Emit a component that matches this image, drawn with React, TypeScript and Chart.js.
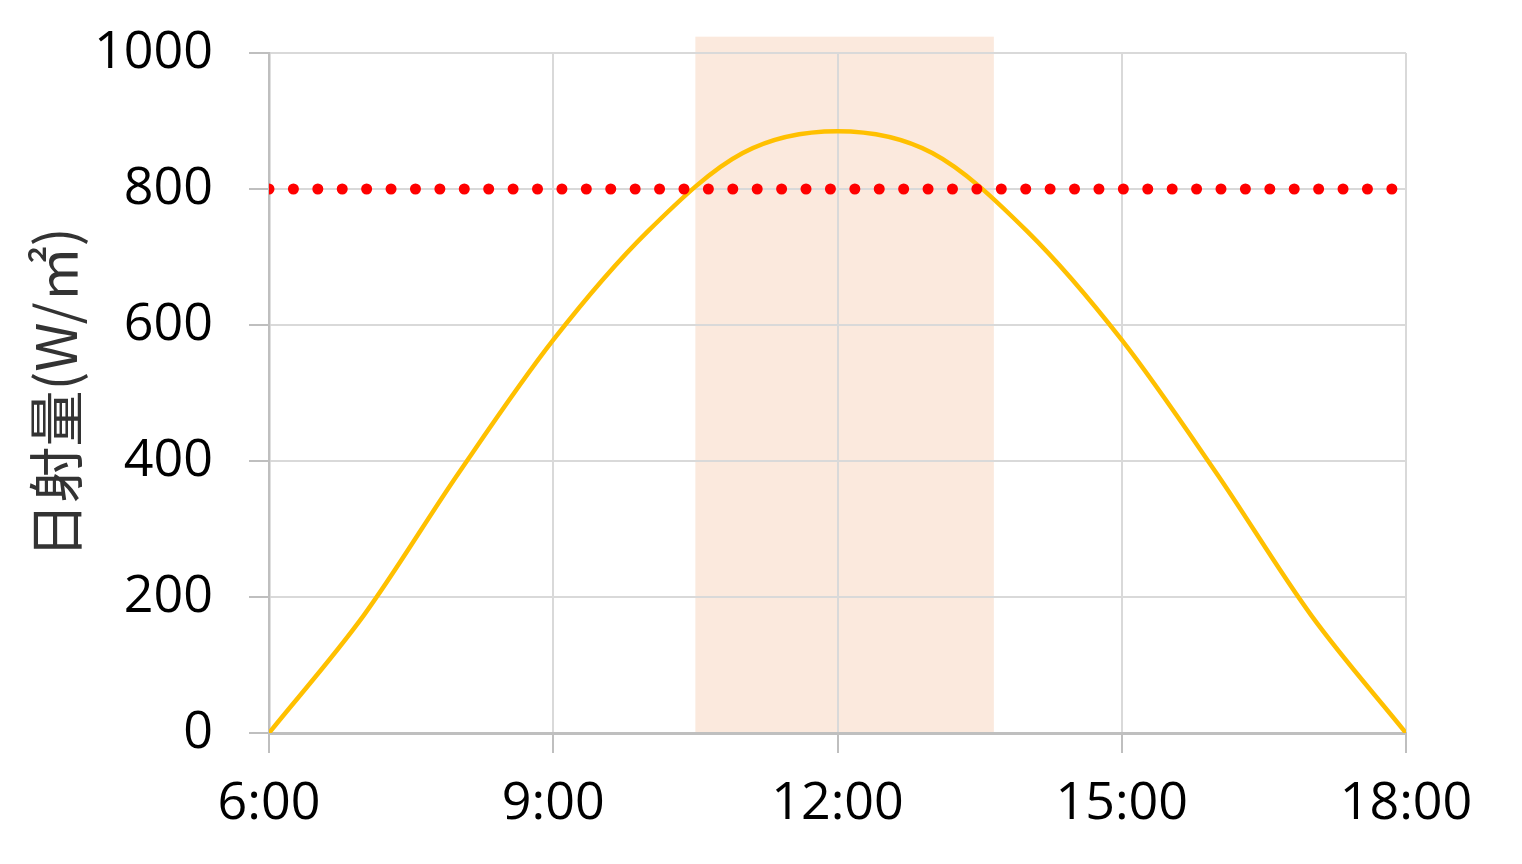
import React, { useEffect, useRef } from "react";
import { Chart, registerables } from "chart.js";

Chart.register(...registerables);

// Hours of day
const hours = [6, 7, 8, 9, 10, 11, 12, 13, 14, 15, 16, 17, 18];
// Solar irradiance (W/m2)
const irradiance = [0, 173, 382, 578, 738, 853, 885, 853, 738, 578, 382, 173, 0];
// Threshold line
const thresholdHours = [6, 18];
const thresholdValues = [800, 800];
// Highlighted period
const bandStart = 10.5;
const bandEnd = 13.65;
const bandTopValue = 1024;
// Axis ticks
const xTicks = [6, 9, 12, 15, 18];
const yTickStep = 200;
const yMax = 1000;
const yTitle = "日射量(W/㎡)";

const bandPlugin = {
  id: "band",
  beforeDraw(chart: any) {
    const { ctx, scales, chartArea } = chart;
    const x1 = scales.x.getPixelForValue(bandStart);
    const x2 = scales.x.getPixelForValue(bandEnd);
    const yTop = scales.y.getPixelForValue(bandTopValue);
    const yBot = chartArea.bottom;
    ctx.save();
    ctx.fillStyle = "#FBE9DD";
    ctx.fillRect(x1, yTop, x2 - x1, yBot - yTop);
    ctx.restore();
  },
};

export default function App() {
  const ref = useRef<HTMLCanvasElement>(null);
  useEffect(() => {
    document.body.style.margin = "0";
    const chart = new Chart(ref.current!, {
      type: "line",
      data: {
        datasets: [
          {
            data: thresholdHours.map((h, i) => ({ x: h, y: thresholdValues[i] })),
            borderColor: "#FF0000",
            borderWidth: 11,
            borderDash: [0, 24.41],
            borderCapStyle: "round",
            pointRadius: 0,
            fill: false,
          },
          {
            data: hours.map((h, i) => ({ x: h, y: irradiance[i] })),
            borderColor: "#FFC000",
            borderWidth: 4.5,
            pointRadius: 0,
            cubicInterpolationMode: "monotone",
            fill: false,
          },
        ],
      },
      options: {
        responsive: false,
        animation: false,
        layout: { padding: { left: 0, top: 53, right: 116, bottom: 0 } },
        plugins: { legend: { display: false }, tooltip: { enabled: false } },
        scales: {
          x: {
            type: "linear",
            min: 6,
            max: 18,
            afterBuildTicks: (scale: any) => {
              scale.ticks = xTicks.map((v) => ({ value: v }));
            },
            afterFit: (scale: any) => {
              scale.height = 131;
              scale.paddingLeft = 0;
              scale.paddingRight = 0;
            },
            grid: { color: "#D9D9D9", lineWidth: 2, tickLength: 20, tickColor: "#BFBFBF" },
            border: { color: "#BFBFBF", width: 3 },
            ticks: {
              color: "#000",
              font: { family: "'Open Sans'", size: 52 },
              padding: 20,
              maxRotation: 0,
              callback: (v: any) => `${v}:00`,
            },
          },
          y: {
            min: 0,
            max: yMax,
            afterFit: (scale: any) => {
              scale.width = 269;
              scale.paddingTop = 0;
              scale.paddingBottom = 0;
            },
            grid: { color: "#D9D9D9", lineWidth: 2, tickLength: 20, tickColor: "#BFBFBF" },
            border: { color: "#BFBFBF", width: 2.5 },
            ticks: {
              stepSize: yTickStep,
              color: "#000",
              font: { family: "'Open Sans'", size: 52 },
              padding: 36,
              callback: (v: any) => String(v),
            },
            title: {
              display: true,
              text: yTitle,
              color: "#333",
              font: { family: "'Noto Sans CJK JP'", size: 56, lineHeight: 1 },
              padding: { top: 28, bottom: 0 },
            },
          },
        },
      },
      plugins: [bandPlugin],
    });
    return () => chart.destroy();
  }, []);
  return (
    <div style={{ width: 1522, height: 864 }}>
      <canvas ref={ref} width={1522} height={864} />
    </div>
  );
}
